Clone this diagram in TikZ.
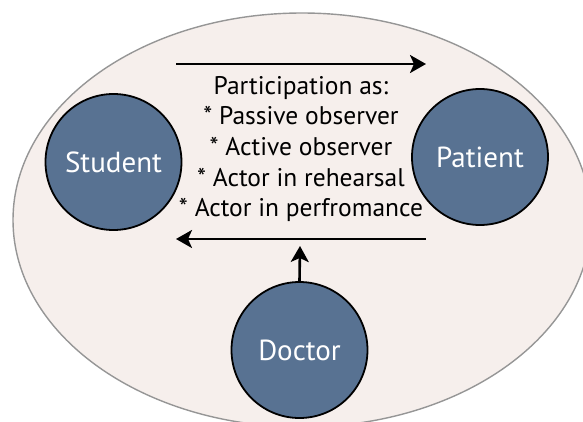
\documentclass[tikz,border=0pt]{standalone}
\usepackage{fontspec}
\setmainfont{PT Sans}
\usetikzlibrary{arrows.meta}

\definecolor{paper}{RGB}{246,239,236}
\definecolor{slate}{RGB}{88,114,146}
\definecolor{rim}{RGB}{150,150,150}

\begin{document}
\begin{tikzpicture}[x=1pt,y=-1pt,
	>={Stealth[length=16pt,width=18pt,inset=4pt]},
	person/.style={circle,draw=black,line width=1.8pt,fill=slate,
		text=white,minimum size=136pt,inner sep=0pt,
		font=\fontsize{29}{32}\selectfont},
	flow/.style={->,line width=2.6pt}]
\useasboundingbox (0,0) rectangle (583,421);

\draw[rim,line width=1.4pt,fill=paper]
	(302,220) ellipse[x radius=289pt,y radius=207pt];

\node[person] (student) at (113.5,162) {Student};
\node[person] (patient) at (480,157) {Patient};
\node[person] (doctor) at (299.5,350) {Doctor};

\node[align=center,font=\fontsize{25.5}{30.7}\selectfont] (roles) at (301,149)
	{Participation as:\\* Passive observer\\* Active observer\\
	* Actor in rehearsal\\* Actor in perfromance};

\coordinate (a1) at (176,64);
\coordinate (a2) at (426,64);
\coordinate (b1) at (426,239);
\coordinate (b2) at (176,239);
\coordinate (b3) at (300,246);

\draw[flow] (a1) -- (a2);
\draw[flow] (b1) -- (b2);
\draw[flow] (doctor.north) -- (b3);

\end{tikzpicture}
\end{document}
